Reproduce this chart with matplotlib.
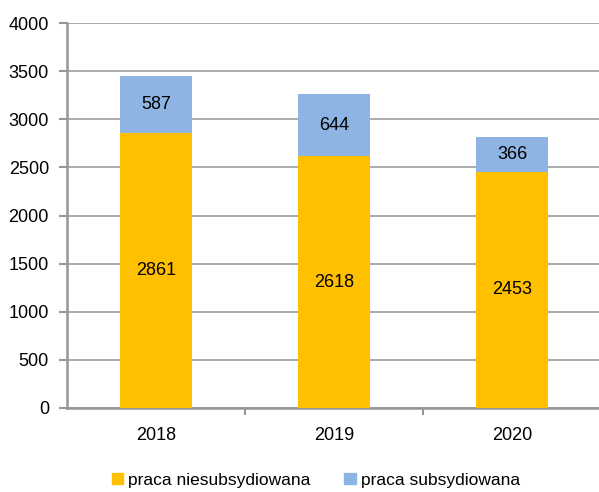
import matplotlib
matplotlib.use("Agg")
import matplotlib.pyplot as plt
from matplotlib.patches import Patch

plt.rcParams['font.family'] = ['Liberation Sans', 'DejaVu Sans']

years = ['2018', '2019', '2020']
niesub = [2861, 2618, 2453]
sub = [587, 644, 366]
labels = ['praca niesubsydiowana', 'praca subsydiowana']
colors = ['#FFC000', '#8EB4E3']

fig = plt.figure(figsize=(5.99, 4.92), dpi=100)
ax = fig.add_axes([67/599, 84/492, 534/599, 385/492])

x = range(len(years))
ax.bar(x, niesub, width=0.4, color=colors[0], zorder=3)
ax.bar(x, sub, width=0.4, bottom=niesub, color=colors[1], zorder=3)
for i in x:
    ax.text(i, niesub[i] / 2, str(niesub[i]), ha='center', va='center', fontsize=13, zorder=4)
    ax.text(i, niesub[i] + sub[i] / 2, str(sub[i]), ha='center', va='center', fontsize=13, zorder=4)

ax.set_xlim(-0.5, 2.5)
ax.set_ylim(0, 4000)
ax.set_yticks(range(0, 4001, 500))
ax.yaxis.grid(True, color='#A6A6A6', linewidth=1.3, zorder=0)
ax.set_axisbelow(True)
ax.set_xticks([0.5, 1.5])
ax.set_xticklabels([])
ax.set_xticks(list(x), minor=True)
ax.set_xticklabels(years, minor=True)
ax.tick_params(axis='x', which='minor', length=0, labelsize=13, pad=14)
ax.tick_params(axis='x', which='major', length=5, width=1.5, color='#969696')
ax.tick_params(axis='y', length=6, width=1.5, color='#969696', labelsize=13, pad=7)
for s in ['top', 'right']:
    ax.spines[s].set_visible(False)
for s in ['left', 'bottom']:
    ax.spines[s].set_color('#969696')
    ax.spines[s].set_linewidth(1.8)

handles = [Patch(color=c) for c in colors]
fig.legend(handles, labels, loc='center', bbox_to_anchor=(0.527, 0.024), ncol=2, frameon=False,
           fontsize=12.5, handlelength=0.65, handleheight=0.65, handletextpad=0.3, columnspacing=1.95)

fig.savefig('out.png', dpi=100)
